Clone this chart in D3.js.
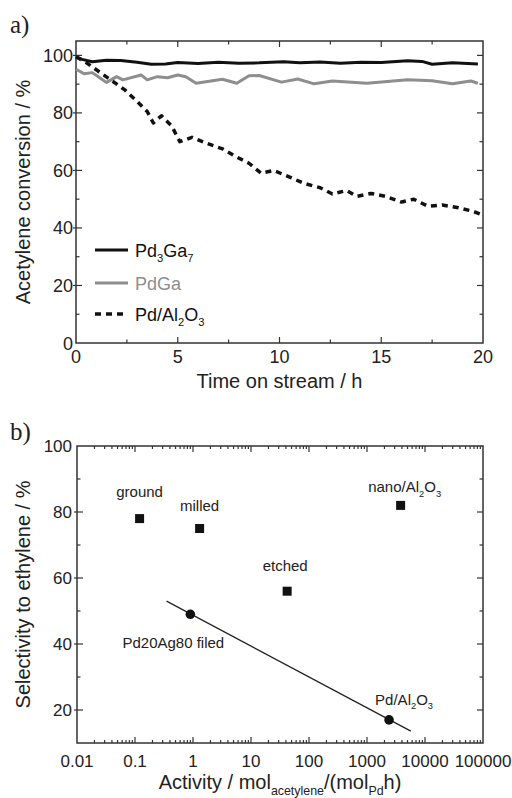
<!DOCTYPE html>
<html>
<head>
<meta charset="utf-8">
<script src="https://cdn.jsdelivr.net/npm/d3@7"></script>
<style>
  body { margin: 0; background: #fff; }
  svg { display: block; font-family: "Liberation Sans", Arial, sans-serif; }
</style>
</head>
<body>
<svg id="fig" width="512" height="798"></svg>
<script>
// ---- panel a: conversion vs time on stream ----
const pd3ga7Time = [0, 0.3, 0.8, 1.5, 2.2, 3, 3.7, 4.4, 5, 6, 7, 8, 9, 10.2, 11, 12, 13, 14, 15, 16.3, 17, 17.5, 18.5, 19.75];
const pd3ga7Conv = [99.5, 98.6, 97.8, 98.3, 98.2, 97.6, 96.9, 97.0, 97.5, 97.2, 97.6, 97.3, 97.4, 97.8, 97.4, 97.7, 97.3, 97.6, 97.5, 98.1, 97.9, 96.9, 97.4, 97.0];

const pdgaTime = [0, 0.4, 0.8, 1.5, 2.0, 2.3, 3.2, 3.5, 4.0, 4.5, 5.0, 5.4, 5.9, 7.2, 7.9, 8.5, 9.0, 10.1, 10.9, 11.7, 12.6, 14.3, 16.3, 17.5, 18.5, 19.4, 19.75];
const pdgaConv = [95.2, 93.6, 94.0, 90.6, 92.6, 91.5, 93.2, 91.5, 92.6, 92.2, 93.2, 92.6, 90.3, 91.7, 90.3, 92.9, 93.0, 90.7, 91.8, 90.1, 91.1, 90.3, 91.5, 91.2, 90.1, 91.1, 90.3];

const pdAlTime = [0, 0.5, 1.2, 1.8, 2.4, 3.0, 3.5, 3.8, 4.2, 4.7, 5.1, 5.7, 6.4, 7.2, 7.8, 8.5, 9.1, 9.7, 10.5, 11.2, 12.0, 12.6, 13.3, 13.8, 14.5, 15.2, 16.0, 16.6, 17.3, 18.0, 18.8, 19.5, 20.0];
const pdAlConv = [99.5, 97.5, 94.0, 91.0, 88.0, 84.0, 80.5, 76.5, 79.0, 75.5, 70.0, 71.5, 69.5, 67.5, 65.0, 62.5, 59.0, 60.0, 57.7, 55.5, 54.0, 51.8, 53.0, 51.0, 52.0, 51.0, 49.0, 50.0, 47.5, 48.0, 47.0, 45.8, 44.5];

const timeTicks = [0, 5, 10, 15, 20];
const convTicks = [0, 20, 40, 60, 80, 100];

// ---- panel b: selectivity vs activity ----
const catalysts   = ["ground", "milled", "etched", "nano/Al2O3", "Pd20Ag80 filed", "Pd/Al2O3"];
const activity    = [0.12, 1.3, 42, 3800, 0.9, 2400];
const selectivity = [78, 75, 56, 82, 49, 17];
const markerShape = ["square", "square", "square", "square", "circle", "circle"];

const trendActivity    = [0.35, 5700];
const trendSelectivity = [53.0, 13.6];

const activityTicks    = [0.01, 0.1, 1, 10, 100, 1000, 10000, 100000];
const activityTickText = ["0.01", "0.1", "1", "10", "100", "1000", "10000", "100000"];
const selectivityTicks = [20, 40, 60, 80, 100];

const svg = d3.select("#fig");
const ink = "#222";
const frameColor = "#333";

// text with subscripts: parts = [[text, isSub], ...]
function rich(sel, parts, size) {
  let prevSub = false;
  parts.forEach(([t, sub]) => {
    const ts = sel.append("tspan").text(t);
    if (sub) ts.attr("font-size", size * 0.62);
    if (sub && !prevSub) ts.attr("dy", size * 0.28);
    if (!sub && prevSub) ts.attr("dy", -size * 0.28);
    prevSub = sub;
  });
  return sel;
}
const subParts = {
  "nano/Al2O3": [["nano/Al", false], ["2", true], ["O", false], ["3", true]],
  "Pd/Al2O3": [["Pd/Al", false], ["2", true], ["O", false], ["3", true]],
  "Pd3Ga7": [["Pd", false], ["3", true], ["Ga", false], ["7", true]]
};
function partsOf(name) { return subParts[name] || [[name, false]]; }

function frame(g, x0, x1, y0, y1) {
  g.append("rect").attr("x", x0).attr("y", y1).attr("width", x1 - x0).attr("height", y0 - y1)
    .attr("fill", "none").attr("stroke", frameColor).attr("stroke-width", 1.5);
}
function tickLine(g, x1, y1, x2, y2) {
  g.append("line").attr("x1", x1).attr("y1", y1).attr("x2", x2).attr("y2", y2)
    .attr("stroke", frameColor).attr("stroke-width", 1.2);
}

// ================= panel a =================
const xA = d3.scaleLinear().domain([0, 20]).range([76, 483]);
const yA = d3.scaleLinear().domain([0, 105]).range([343, 41]);
const gA = svg.append("g");

frame(gA, xA.range()[0], xA.range()[1], yA.range()[0], yA.range()[1]);

// ticks (inward on all four sides)
d3.range(0, 20.01, 2.5).forEach(t => {
  const major = t % 5 === 0;
  const L = major ? 6 : 3.5;
  if (t > 0 && t < 20) {
    tickLine(gA, xA(t), yA(0), xA(t), yA(0) - L);
    tickLine(gA, xA(t), yA(105), xA(t), yA(105) + L);
  }
});
d3.range(10, 101, 10).forEach(v => {
  const major = v % 20 === 0;
  const L = major ? 6 : 3.5;
  tickLine(gA, xA(0), yA(v), xA(0) + L, yA(v));
  tickLine(gA, xA(20), yA(v), xA(20) - L, yA(v));
  if (major) tickLine(gA, xA(0), yA(v), xA(0) - 3, yA(v));
});

gA.selectAll("text.xt").data(timeTicks).join("text")
  .attr("x", d => xA(d)).attr("y", 363).attr("text-anchor", "middle")
  .attr("font-size", 18).attr("fill", ink).text(d => d);
gA.selectAll("text.yt").data(convTicks).join("text")
  .attr("x", 73).attr("y", d => yA(d) + 6.5).attr("text-anchor", "end")
  .attr("font-size", 18).attr("fill", ink).text(d => d);

gA.append("text").attr("x", (xA(0) + xA(20)) / 2).attr("y", 388).attr("text-anchor", "middle")
  .attr("font-size", 20).attr("fill", ink).text("Time on stream / h");
gA.append("text").attr("transform", `translate(30,${(yA(0) + yA(105)) / 2}) rotate(-90)`)
  .attr("text-anchor", "middle").attr("font-size", 20).attr("fill", ink)
  .text("Acetylene conversion / %");

gA.append("text").attr("x", 10).attr("y", 33).attr("font-family", "Liberation Serif, Times New Roman, serif")
  .attr("font-size", 25).attr("fill", ink).text("a)");

const lineA = d3.line().x(d => xA(d[0])).y(d => yA(d[1]));
const seriesA = [
  { name: "Pd3Ga7", t: pd3ga7Time, v: pd3ga7Conv, color: "#111", dash: null, w: 3, text: "#111" },
  { name: "PdGa", t: pdgaTime, v: pdgaConv, color: "#8e8e8e", dash: null, w: 3, text: "#8e8e8e" },
  { name: "Pd/Al2O3", t: pdAlTime, v: pdAlConv, color: "#111", dash: "6,5", w: 3.5, text: "#111" }
];
seriesA.forEach(s => {
  gA.append("path").datum(d3.zip(s.t, s.v)).attr("d", lineA)
    .attr("fill", "none").attr("stroke", s.color).attr("stroke-width", s.w)
    .attr("stroke-dasharray", s.dash).attr("stroke-linejoin", "round");
});

// legend
const legendRows = [250, 283, 314];
seriesA.forEach((s, i) => {
  const y = legendRows[i];
  gA.append("line").attr("x1", 95).attr("x2", 128).attr("y1", y).attr("y2", y)
    .attr("stroke", s.color).attr("stroke-width", s.w).attr("stroke-dasharray", s.dash);
  rich(gA.append("text").attr("x", 135).attr("y", y + 6.5).attr("font-size", 18).attr("fill", s.text),
    partsOf(s.name), 18);
});

// ================= panel b =================
const xB = d3.scaleLog().domain([0.01, 100000]).range([77, 483]);
const yB = d3.scaleLinear().domain([10, 100]).range([743, 446]);
const gB = svg.append("g");

frame(gB, xB.range()[0], xB.range()[1], yB.range()[0], yB.range()[1]);

// log ticks: decades major, 2..9 minor, top and bottom
activityTicks.forEach((d, i) => {
  if (i > 0 && i < activityTicks.length - 1) {
    tickLine(gB, xB(d), yB(10), xB(d), yB(10) - 6);
    tickLine(gB, xB(d), yB(100), xB(d), yB(100) + 6);
  }
  if (i < activityTicks.length - 1) {
    for (let k = 2; k <= 9; k++) {
      const v = d * k;
      tickLine(gB, xB(v), yB(10), xB(v), yB(10) - 3);
      tickLine(gB, xB(v), yB(100), xB(v), yB(100) + 3);
    }
  }
});
d3.range(20, 100, 10).forEach(v => {
  const major = v % 20 === 0;
  const L = major ? 6 : 3.5;
  tickLine(gB, xB(0.01), yB(v), xB(0.01) + L, yB(v));
  tickLine(gB, xB(100000), yB(v), xB(100000) - L, yB(v));
  if (major) tickLine(gB, xB(0.01), yB(v), xB(0.01) - 3, yB(v));
});

gB.selectAll("text.xt").data(activityTicks).join("text")
  .attr("x", d => xB(d)).attr("y", 767).attr("text-anchor", "middle")
  .attr("font-size", 17).attr("fill", ink).text((d, i) => activityTickText[i]);
gB.selectAll("text.yt").data(selectivityTicks).join("text")
  .attr("x", 72).attr("y", d => yB(d) + 6).attr("text-anchor", "end")
  .attr("font-size", 17).attr("fill", ink).text(d => d);

// x title sits low, close to the lower edge of the figure
const xtB = gB.append("text").attr("x", 280).attr("y", 789).attr("text-anchor", "middle")
  .attr("font-size", 20).attr("fill", ink);
rich(xtB, [["Activity / mol", false], ["acetylene", true], ["/(mol", false], ["Pd", true], ["h)", false]], 20);

gB.append("text").attr("transform", `translate(30,${(yB(10) + yB(100)) / 2}) rotate(-90)`)
  .attr("text-anchor", "middle").attr("font-size", 20).attr("fill", ink)
  .text("Selectivity to ethylene / %");

gB.append("text").attr("x", 10).attr("y", 440).attr("font-family", "Liberation Serif, Times New Roman, serif")
  .attr("font-size", 25).attr("fill", ink).text("b)");

// trend line through the Pd-Ag and Pd/Al2O3 points
gB.append("path").datum(d3.zip(trendActivity, trendSelectivity))
  .attr("d", d3.line().x(d => xB(d[0])).y(d => yB(d[1])))
  .attr("stroke", "#222").attr("stroke-width", 1.3).attr("fill", "none");

const pts = catalysts.map((c, i) => ({ name: c, a: activity[i], s: selectivity[i], shape: markerShape[i] }));
pts.forEach(p => {
  const cx = xB(p.a), cy = yB(p.s);
  if (p.shape === "square") {
    gB.append("rect").attr("x", cx - 4.5).attr("y", cy - 4.5).attr("width", 9).attr("height", 9).attr("fill", "#111");
  } else {
    gB.append("circle").attr("cx", cx).attr("cy", cy).attr("r", 4.8).attr("fill", "#111");
  }
});

// label placement relative to each marker
const labelOffset = {
  "ground": [0, -22], "milled": [0, -18], "etched": [-2, -20],
  "nano/Al2O3": [4, -13], "Pd20Ag80 filed": [-17, 34], "Pd/Al2O3": [15, -15]
};
pts.forEach(p => {
  const [dx, dy] = labelOffset[p.name];
  rich(gB.append("text").attr("x", xB(p.a) + dx).attr("y", yB(p.s) + dy)
    .attr("text-anchor", "middle").attr("font-size", 15).attr("fill", ink), partsOf(p.name), 15);
});
</script>
</body>
</html>
